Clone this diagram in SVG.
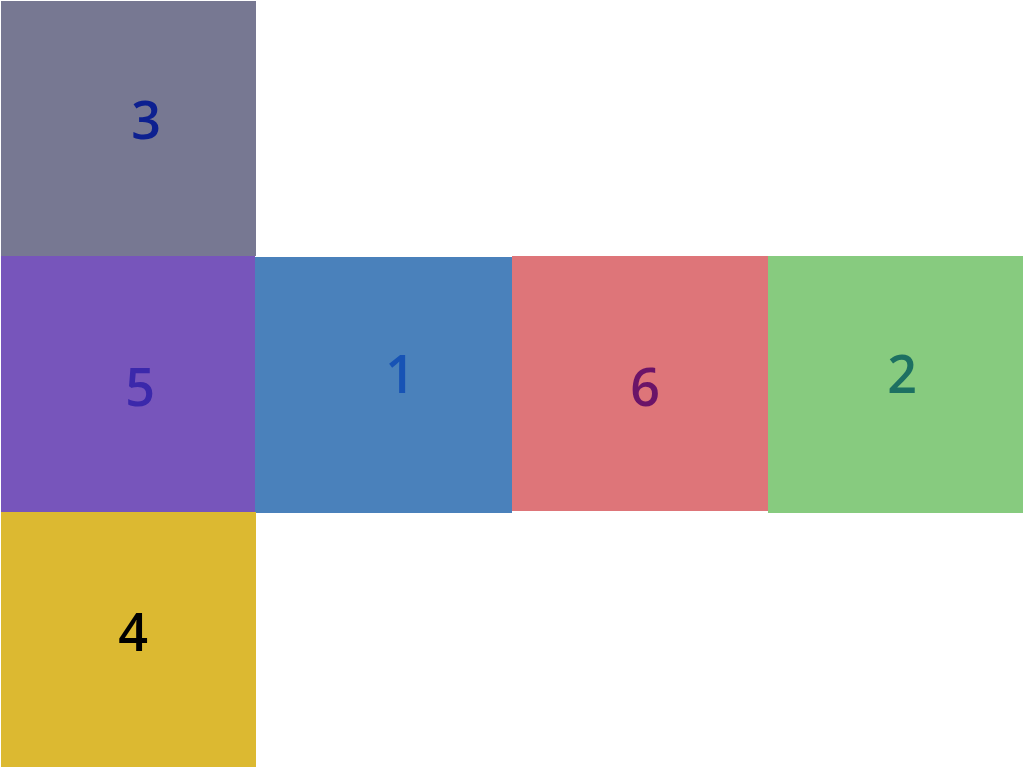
<svg xmlns="http://www.w3.org/2000/svg" width="1024" height="768" viewBox="0 0 1024 768">
<style>
text{font-family:"Open Sans","Noto Sans",sans-serif;font-size:52px;font-weight:600;text-anchor:middle}
</style>
<rect width="1024" height="768" fill="#ffffff"/>
<g id="node3"><rect x="1" y="1" width="255" height="255" fill="#777892"/><text x="146" y="139" fill="#0d2090">3</text></g>
<g id="node5"><rect x="1" y="256" width="254" height="256" fill="#7755bb"/><text x="140" y="406" fill="#3b28ab">5</text></g>
<g id="node1"><rect x="255" y="257" width="257" height="256" fill="#4a81bb"/><text x="400" y="393" fill="#1753b5">1</text></g>
<g id="node6"><rect x="512" y="256" width="256" height="255" fill="#de7579"/><text x="645" y="406" fill="#6b1468">6</text></g>
<g id="node2"><rect x="768" y="256" width="255" height="257" fill="#87cb7f"/><text x="902" y="393" fill="#1d7062">2</text></g>
<g id="node4"><rect x="1" y="512" width="255" height="255" fill="#dcb931"/><text x="133" y="651" fill="#000000">4</text></g>
<g id="connectors"></g>
</svg>
